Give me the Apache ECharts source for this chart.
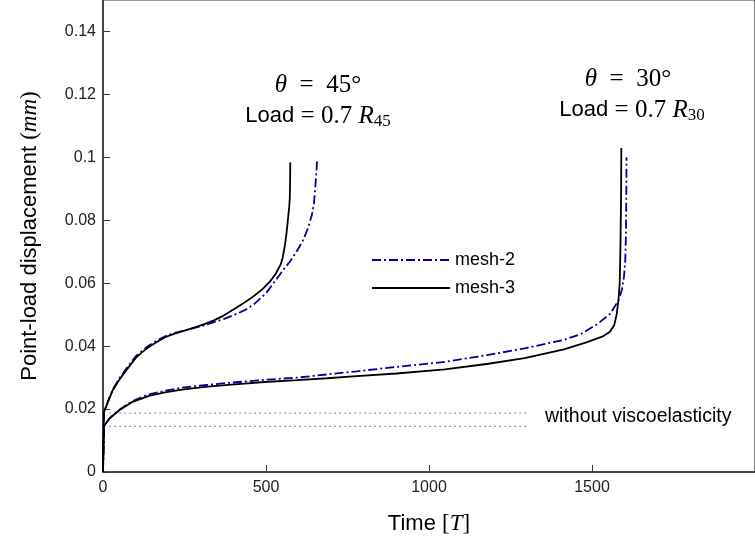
<!DOCTYPE html>
<html>
<head>
<meta charset="utf-8">
<script src="https://cdn.jsdelivr.net/npm/echarts@6/dist/echarts.min.js"></script>
<style>html,body{margin:0;padding:0;background:#fff;}#c{width:755px;height:544px;}</style>
</head>
<body>
<div id="c"></div>
<script>
// ---- data (time [T], displacement mm) ----
var mesh3_45 = [[0,0],[3,0.0190],[15,0.0222],[30,0.0260],[50,0.0293],[71,0.0323],[100,0.0362],[120,0.0381],[141,0.0397],[165,0.0413],[192,0.0429],[220,0.0440],[250,0.0449],[280,0.0459],[313,0.0471],[340,0.0482],[370,0.0497],[404,0.0519],[440,0.0543],[465,0.0561],[490,0.0582],[512,0.0605],[530,0.0630],[545,0.0660],[551,0.0680],[558,0.0720],[563,0.0760],[567,0.0800],[571,0.0840],[573,0.0870],[574,0.0930],[574.5,0.0984]];
var mesh2_45 = [[0,0],[3,0.0191],[15,0.0224],[30,0.0263],[50,0.0297],[71,0.0328],[100,0.0367],[120,0.0385],[141,0.0402],[165,0.0418],[192,0.0432],[220,0.0442],[250,0.0450],[280,0.0458],[313,0.0467],[340,0.0476],[370,0.0486],[404,0.0500],[440,0.0517],[465,0.0535],[500,0.0568],[525,0.0603],[550,0.0638],[576,0.0672],[598,0.0708],[613,0.0735],[630,0.0778],[641,0.0818],[647,0.0852],[650,0.0890],[653,0.0930],[655,0.0960],[657,0.0995]];
var mesh3_30 = [[0,0],[3,0.0146],[20,0.0170],[51,0.0197],[91,0.0223],[141,0.0242],[190,0.0253],[242,0.0262],[320,0.0271],[394,0.0278],[496,0.0286],[596,0.0292],[687,0.0298],[778,0.0305],[900,0.0313],[1049,0.0326],[1182,0.0344],[1293,0.0362],[1414,0.0390],[1485,0.0413],[1535,0.0432],[1555,0.0446],[1568,0.0466],[1576,0.0503],[1581,0.0545],[1585,0.0600],[1587,0.0704],[1589,0.0850],[1590,0.1030]];
var mesh2_30 = [[0,0],[3,0.0146],[20,0.0171],[51,0.0199],[91,0.0226],[141,0.0247],[190,0.0258],[242,0.0268],[320,0.0277],[394,0.0284],[496,0.0293],[596,0.0300],[687,0.0310],[778,0.0320],[900,0.0334],[1049,0.0350],[1182,0.0372],[1293,0.0393],[1414,0.0420],[1465,0.0438],[1515,0.0469],[1556,0.0503],[1581,0.0545],[1592,0.0580],[1598,0.0620],[1602,0.0670],[1604,0.0750],[1605,0.0850],[1606,0.1000]];
var elastic45 = [[20,0.0187],[1305,0.0187]];
var elastic30 = [[20,0.0145],[1305,0.0145]];
var legendNames = ['mesh-2','mesh-3'];

var sans = 'Liberation Sans';
var serif = 'Liberation Serif';
var mathRich = {
  s: {fontFamily: sans, fontSize: 22, color: '#000'},
  n: {fontFamily: serif, fontSize: 25, color: '#000'},
  it: {fontFamily: serif, fontSize: 25, fontStyle: 'italic', color: '#000'},
  sub: {fontFamily: serif, fontSize: 17, color: '#000', verticalAlign: 'bottom', padding: [11,0,0,0]}
};
var axisRich = {
  s: {fontFamily: sans, fontSize: 22, color: '#000'},
  n: {fontFamily: serif, fontSize: 23, color: '#000'},
  it: {fontFamily: serif, fontSize: 23, fontStyle: 'italic', color: '#000'}
};

var blueStyle = {color: '#00009c', width: 1.8, type: [9,3,2,3]};
var blackStyle = {color: '#000', width: 1.8, type: 'solid'};
var dotStyle = {color: '#666', width: 1.2, type: [1.2,3.8]};

function line(name, data, style, z) {
  return {name: name, type: 'line', data: data, showSymbol: false, symbol: 'none',
    lineStyle: style, itemStyle: {color: style.color}, z: z, silent: true, animation: false};
}

var chart = echarts.init(document.getElementById('c'));
chart.setOption({
  animation: false,
  grid: {left: 103, top: 0, width: 660, height: 472, show: true, borderColor: '#333', borderWidth: 1.2, containLabel: false},
  legend: {data: legendNames, orient: 'vertical', left: 366, top: 246, itemWidth: 78, itemHeight: 14, itemGap: 10,
    itemStyle: {opacity: 0},
    textStyle: {fontFamily: sans, fontSize: 18, color: '#000'}},
  xAxis: {type: 'value', min: 0, max: 2000, interval: 500,
    axisLine: {lineStyle: {color: '#333', width: 1.5}},
    axisTick: {inside: true, length: 7, lineStyle: {color: '#333'}},
    axisLabel: {fontFamily: sans, fontSize: 16, color: '#222', margin: 8, showMaxLabel: false,
      formatter: function (v) { return String(v); }},
    splitLine: {show: false},
    name: '{s|Time }{n|[}{it|T}{n|]}', nameLocation: 'middle', nameGap: 40,
    nameTextStyle: {rich: axisRich}},
  yAxis: {type: 'value', min: 0, max: 0.15, interval: 0.02,
    axisLine: {lineStyle: {color: '#333', width: 1.5}},
    axisTick: {inside: true, length: 7, lineStyle: {color: '#333'}},
    axisLabel: {fontFamily: sans, fontSize: 16, color: '#222', margin: 7, showMaxLabel: false},
    splitLine: {show: false},
    name: '{s|Point-load displacement }{n|(}{it|mm}{n|)}', nameLocation: 'middle', nameGap: 62,
    nameTextStyle: {rich: axisRich}},
  series: [
    line('without viscoelasticity 45', elastic45, dotStyle, 1),
    line('without viscoelasticity 30', elastic30, dotStyle, 1),
    line('mesh-2', mesh2_45, blueStyle, 3),
    line('mesh-2', mesh2_30, blueStyle, 3),
    line('mesh-3', mesh3_45, blackStyle, 4),
    line('mesh-3', mesh3_30, blackStyle, 4)
  ],
  graphic: [
    {type: 'text', left: 545, top: 407, style: {text: 'without viscoelasticity', font: '19.5px "Liberation Sans"', fill: '#000'}},
    {type: 'text', x: 318, y: 85, style: {text: '{it|θ}{n|  =  45°}', rich: mathRich, align: 'center', verticalAlign: 'middle'}},
    {type: 'text', x: 318, y: 116, style: {text: '{s|Load}{n| = 0.7 }{it|R}{sub|45}', rich: mathRich, align: 'center', verticalAlign: 'middle'}},
    {type: 'text', x: 628, y: 79, style: {text: '{it|θ}{n|  =  30°}', rich: mathRich, align: 'center', verticalAlign: 'middle'}},
    {type: 'text', x: 632, y: 110, style: {text: '{s|Load}{n| = 0.7 }{it|R}{sub|30}', rich: mathRich, align: 'center', verticalAlign: 'middle'}}
  ]
});
</script>
</body>
</html>
